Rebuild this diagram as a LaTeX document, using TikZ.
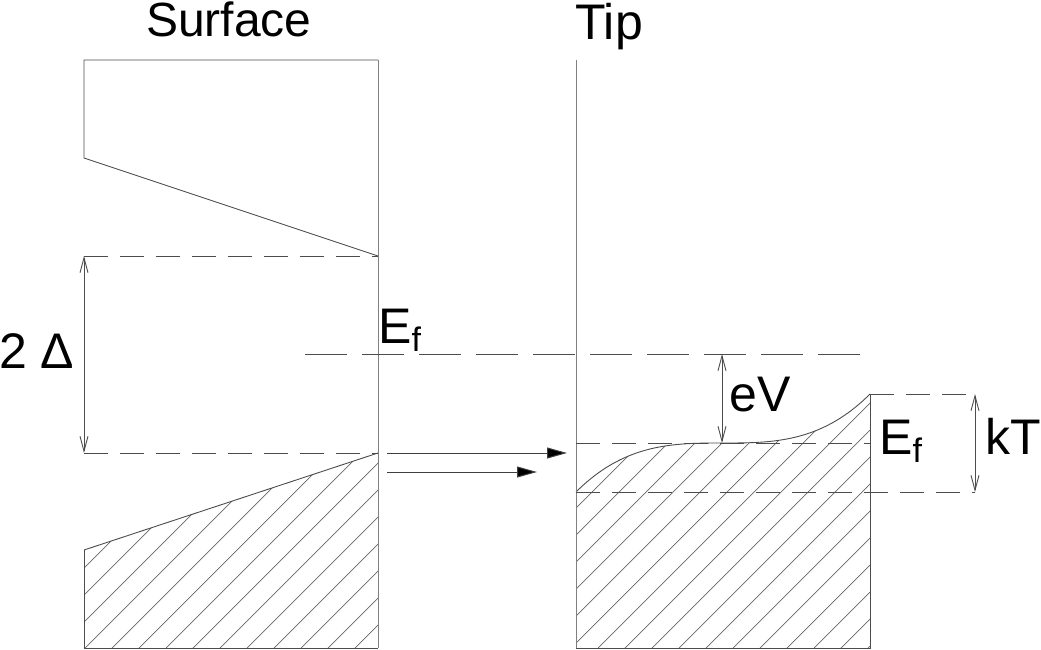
\documentclass[tikz,border=0pt]{standalone}
\usepackage{fontspec}
\setmainfont{Liberation Sans}
\usetikzlibrary{arrows.meta}
\newcommand\subf[1]{\raisebox{-8pt}{\fontsize{34}{34}\selectfont #1}}
\begin{document}
\begin{tikzpicture}[x=1pt,y=-1pt,
  line/.style={draw=black!70, line width=0.9pt},
  lightline/.style={draw=black!50, line width=1pt},
  dashA/.style={line, dash pattern=on 24pt off 12pt},
  dashB/.style={line, dash pattern=on 42pt off 15pt},
  hatchline/.style={draw=black!60, line width=0.7pt},
  dim/.style={line, {Straight Barb[length=15pt,width=8pt]}-{Straight Barb[length=15pt,width=8pt]}},
  flow/.style={draw=black!75, line width=1pt, -{Triangle[length=20pt,width=11pt,fill=black]}},
  lab/.style={inner sep=0pt, anchor=base west, font=\fontsize{50}{60}\selectfont}]
\useasboundingbox (0,0) rectangle (1041,650);

% key points
\coordinate (sTL) at (84,60);
\coordinate (sTR) at (378,60);
\coordinate (sCL) at (84,158);
\coordinate (sCB) at (378,256);
\coordinate (sGL) at (84,256);
\coordinate (sVL) at (84,453);
\coordinate (sVR) at (378,453);
\coordinate (sBL) at (84,550);
\coordinate (sBotL) at (84,648);
\coordinate (sBotR) at (378,648);

% hatch, surface valence band
\begin{scope}
\clip (sBL) -- (sVR) -- (sBotR) -- (sBotL) -- cycle;
\foreach \k in {-20,...,40} {\draw[hatchline] ({733+27*\k-700},700) -- ({733+27*\k},0);}
\end{scope}

% surface outlines
\draw[line] (sTR) -- (sTL) -- (sCL) -- (sCB);
\draw[line] (sBL) -- (sVR);
\draw[line] (sBL) -- (sBotL) -- (sBotR);
\draw[lightline] (sTR) -- (sBotR);
\draw[dashA] (sGL) -- (sCB);
\draw[dashA] (sVL) -- (sVR);
\draw[dim] (sGL) -- (sVL);

% Fermi level line
\coordinate (efA) at (305,354);
\coordinate (efB) at (870,354);
\draw[dashB] (efA) -- (efB);

% tip
\coordinate (tT) at (576,60);
\coordinate (tL) at (576,492);
\coordinate (tM) at (576,443);
\coordinate (tBL) at (576,648);
\coordinate (tBR) at (870,648);
\coordinate (tR) at (870,394);
\coordinate (tMR) at (870,443);
\coordinate (kTa) at (975,394);
\coordinate (kTb) at (975,492);
\coordinate (eVa) at (722,354);
\coordinate (eVb) at (722,443);

\begin{scope}
\clip plot[domain=576:870, samples=80] (\x, {443-49*((\x-723)/147)*((\x-723)/147)*((\x-723)/147)}) -- (tBR) -- (tBL) -- cycle;
\foreach \k in {-20,...,40} {\draw[hatchline] ({733+27*\k-700},700) -- ({733+27*\k},0);}
\end{scope}

\draw[line] plot[domain=576:870, samples=80] (\x, {443-49*((\x-723)/147)*((\x-723)/147)*((\x-723)/147)});
\draw[lightline] (tT) -- (tBL);
\draw[line] (tBL) -- (tBR) -- (tR);
\draw[dashA] (tM) -- (tMR);
\draw[dashA] (tL) -- (kTb);
\draw[dashA] (tR) -- (kTa);
\draw[dim] (eVa) -- (eVb);
\draw[dim] (kTa) -- (kTb);

% tunnelling arrows
\coordinate (fa1) at (387,453);
\coordinate (fb1) at (567,453);
\coordinate (fa2) at (387,472);
\coordinate (fb2) at (537,472);
\draw[flow] (fa1) -- (fb1);
\draw[flow] (fa2) -- (fb2);

% labels
\node[lab, font=\fontsize{48}{58}\selectfont] (surface) at (146,37) {Surface};
\node[lab] (tip) at (575,40) {Tip};
\node[lab] (gap) at (-1,368) {2 Δ};
\node[lab] (efl) at (378,343) {E\subf{f}};
\node[lab] (efr) at (879,454) {E\subf{f}};
\node[lab] (ev) at (729,411) {eV};
\node[lab] (kt) at (985,454) {kT};
\end{tikzpicture}
\end{document}
